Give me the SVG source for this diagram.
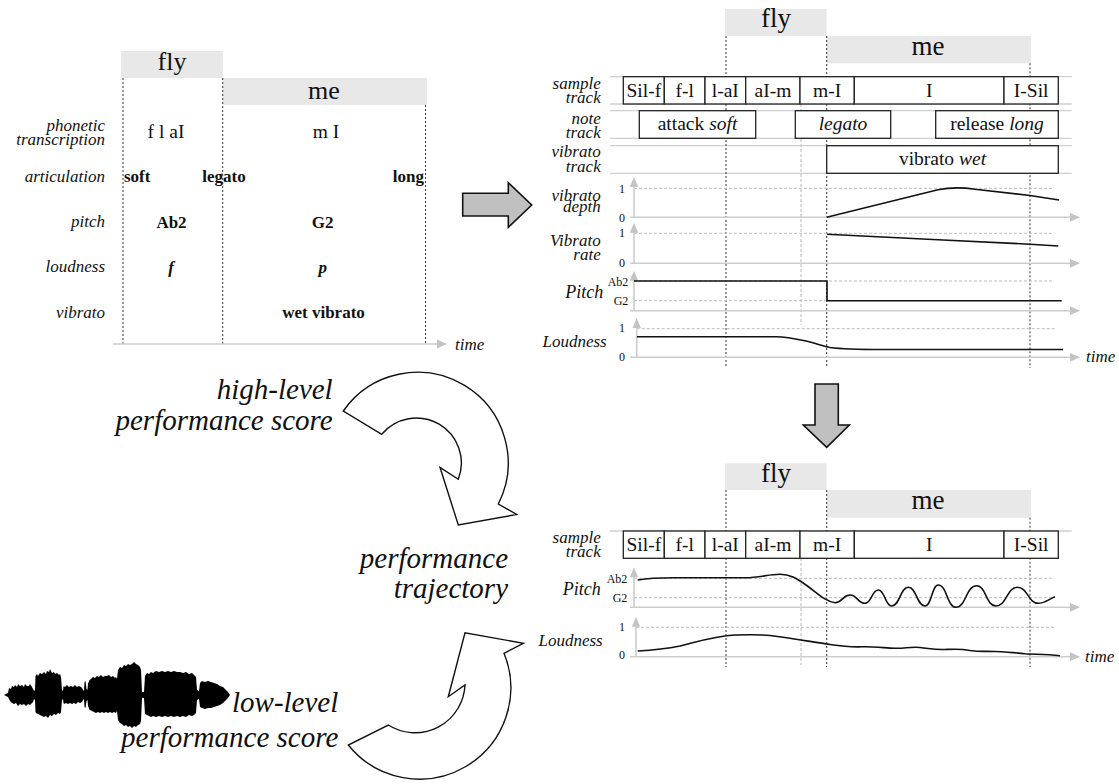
<svg xmlns="http://www.w3.org/2000/svg" width="1119" height="784" viewBox="0 0 1119 784">
<defs>
<style>
text { font-family: "Liberation Serif", "Times New Roman", serif; fill: #111; }
.lab { font-style: italic; font-size: 17px; text-anchor: end; }
.val { font-size: 19.5px; text-anchor: middle; }
.bv { font-size: 17px; font-weight: bold; text-anchor: middle; }
.word { font-size: 26px; text-anchor: middle; }
.wbox { fill: #e8e8e8; }
.seg { fill: #fff; stroke: #222; stroke-width: 1.3; }
.segt { font-size: 19.5px; text-anchor: middle; }
.trk { stroke: #cfcfcf; stroke-width: 1.3; }
.axis { stroke: #cdcdcd; stroke-width: 1.6; fill: none; }
.grid { stroke: #bdbdbd; stroke-width: 1; stroke-dasharray: 3 2; fill: none; }
.bound { stroke: #333; stroke-width: 1; stroke-dasharray: 2 2; fill: none; }
.gb { stroke: #b8b8b8; stroke-width: 1; stroke-dasharray: 3 2; fill: none; }
.curve { fill: none; stroke: #111; stroke-width: 1.6; stroke-linejoin: round; }
.tick { font-size: 12px; text-anchor: end; }
.big { font-style: italic; font-size: 29px; text-anchor: end; }
.block { fill: #c0c0c0; stroke: #111; stroke-width: 1.6; }
.bend { fill: #fff; stroke: #111; stroke-width: 1.4; stroke-linejoin: miter; }
.time { font-style: italic; font-size: 17px; }
</style>
<path id="up" d="M0,-5 L4.2,5 L-4.2,5 Z" fill="#c4c4c4"/>
<path id="rt" d="M-5,-4.4 L5,0 L-5,4.4 Z" fill="#c4c4c4"/>
</defs>

<rect width="1119" height="784" fill="#fff"/>

<!-- high-level performance score table -->
<g id="hl-score">
  <rect class="wbox" x="121" y="51" width="102" height="27"/>
  <rect class="wbox" x="222.7" y="78" width="204.3" height="27"/>
  <text class="word" x="172" y="69.5">fly</text>
  <text class="word" x="324" y="99">me</text>
  <path class="bound" d="M123,78 V344 M222.7,78 V344 M425.5,105 V344"/>
  <path class="axis" d="M113,344 H438"/>
  <use href="#rt" x="442" y="344"/>
  <text class="time" x="455" y="350">time</text>

  <text class="lab" x="105" y="130.7">phonetic</text>
  <text class="lab" x="105" y="144.5">transcription</text>
  <text class="lab" x="105" y="181.5">articulation</text>
  <text class="lab" x="105" y="227">pitch</text>
  <text class="lab" x="105" y="272.3">loudness</text>
  <text class="lab" x="105" y="317.7">vibrato</text>

  <text class="val" x="166" y="137.7">f l aI</text>
  <text class="val" x="326" y="137.7">m I</text>
  <text class="bv" x="124" y="181.5" text-anchor="start" style="text-anchor:start">soft</text>
  <text class="bv" x="224" y="181.5">legato</text>
  <text class="bv" x="424" y="181.5" style="text-anchor:end">long</text>
  <text class="bv" x="171.5" y="227.5">Ab2</text>
  <text class="bv" x="322.7" y="227.5">G2</text>
  <text class="bv" x="171" y="273" font-style="italic">f</text>
  <text class="bv" x="322.7" y="273" font-style="italic">p</text>
  <text class="bv" x="323.5" y="318">wet vibrato</text>
</g>

<!-- parameter tracks and control curves -->
<g id="params-panel">
  <rect class="wbox" x="725" y="9" width="101.7" height="27"/>
  <rect class="wbox" x="826.7" y="36" width="204.3" height="27.3"/>
  <text class="word" x="776" y="27.3" style="font-size:27px">fly</text>
  <text class="word" x="928" y="55" style="font-size:27px">me</text>

  <path class="trk" d="M610,76.7 H1071.7 M610,104 H1071.7 M610,110.7 H1071.7 M610,138.3 H1071.7 M610,145.7 H1071.7 M610,173.3 H1071.7"/>
  <path class="gb" d="M801,104 V325"/>
  <path class="bound" d="M726,36 V368 M826.7,36 V368 M1030,63.3 V368"/>

  <text class="lab" x="600.7" y="89">sample</text>
  <text class="lab" x="600.7" y="103">track</text>
  <text class="lab" x="600.7" y="124">note</text>
  <text class="lab" x="600.7" y="137.7">track</text>
  <text class="lab" x="600.7" y="157">vibrato</text>
  <text class="lab" x="600.7" y="171.5">track</text>

  <g id="sample-track">
    <rect class="seg" x="623.3" y="76.7" width="41" height="27.3"/>
    <rect class="seg" x="664.3" y="76.7" width="40.7" height="27.3"/>
    <rect class="seg" x="705" y="76.7" width="40.7" height="27.3"/>
    <rect class="seg" x="745.7" y="76.7" width="54.3" height="27.3"/>
    <rect class="seg" x="800" y="76.7" width="54.3" height="27.3"/>
    <rect class="seg" x="854.3" y="76.7" width="149.7" height="27.3"/>
    <rect class="seg" x="1004" y="76.7" width="54.3" height="27.3"/>
    <text class="segt" x="643.8" y="96.7">Sil-f</text>
    <text class="segt" x="684.7" y="96.7">f-l</text>
    <text class="segt" x="725.3" y="96.7">l-aI</text>
    <text class="segt" x="772.9" y="96.7">aI-m</text>
    <text class="segt" x="827.2" y="96.7">m-I</text>
    <text class="segt" x="929.2" y="96.7">I</text>
    <text class="segt" x="1031.2" y="96.7">I-Sil</text>
  </g>
  <g id="note-track">
    <rect class="seg" x="639.3" y="110.7" width="116.4" height="27.6"/>
    <rect class="seg" x="795.3" y="110.7" width="95.4" height="27.6"/>
    <rect class="seg" x="935.7" y="110.7" width="122.6" height="27.6"/>
    <text class="segt" x="697.5" y="130">attack <tspan font-style="italic">soft</tspan></text>
    <text class="segt" x="843" y="130" font-style="italic">legato</text>
    <text class="segt" x="997" y="130">release <tspan font-style="italic">long</tspan></text>
  </g>
  <g id="vibrato-track">
    <rect class="seg" x="826.7" y="145.7" width="231.6" height="27.6"/>
    <text class="segt" x="942.5" y="165">vibrato <tspan font-style="italic">wet</tspan></text>
  </g>

  <g id="vibrato-depth">
    <text class="lab" x="600.7" y="200.5">vibrato</text>
    <text class="lab" x="600.7" y="212">depth</text>
    <path class="grid" d="M634,188.3 H1053"/>
    <path class="axis" d="M634,186 V217.3 M630,217.3 H1070"/>
    <use href="#up" x="634" y="182"/>
    <use href="#rt" x="1075" y="217.3"/>
    <text class="tick" x="625" y="193">1</text>
    <text class="tick" x="625" y="221.7">0</text>
    <path class="curve" d="M826.7,217.3 L938,189.8 C950,187.3 962,187.3 975,189.2 L1030,195.5 L1059,200"/>
  </g>
  <g id="vibrato-rate">
    <text class="lab" x="600.7" y="246">Vibrato</text>
    <text class="lab" x="600.7" y="259.5">rate</text>
    <path class="grid" d="M634,233.3 H1051.7"/>
    <path class="axis" d="M634,232 V263.3 M630,263.3 H1070"/>
    <use href="#up" x="634" y="227.7"/>
    <use href="#rt" x="1075" y="263.3"/>
    <text class="tick" x="625" y="237">1</text>
    <text class="tick" x="625" y="267.3">0</text>
    <path class="curve" d="M827,234.3 L943,240 L1030,244.2 L1058.3,246"/>
  </g>
  <g id="pitch-curve">
    <text class="lab" x="603.3" y="298.3" style="font-size:18px">Pitch</text>
    <path class="grid" d="M634,281 H1053 M634,300.7 H1053"/>
    <path class="axis" d="M634,280 V310.7 M630,310.7 H1070"/>
    <use href="#up" x="634" y="275.7"/>
    <use href="#rt" x="1075" y="310.7"/>
    <text class="tick" x="628.3" y="286">Ab2</text>
    <text class="tick" x="628.3" y="305">G2</text>
    <path class="curve" d="M634,281 H827 V300.7 H1061.7"/>
  </g>
  <g id="loudness-curve">
    <text class="lab" x="606.7" y="346.7">Loudness</text>
    <path class="grid" d="M636.7,328.7 H1056.7"/>
    <path class="axis" d="M636.7,327.7 V357.3 M630,357.3 H1070"/>
    <use href="#up" x="636.7" y="323"/>
    <use href="#rt" x="1075" y="357.3"/>
    <text class="tick" x="625" y="332">1</text>
    <text class="tick" x="625" y="361">0</text>
    <path class="curve" d="M637,336.7 H776 C790,337 800,340 810,342 C818,344 822,346 830,347.5 C845,349.4 860,349.5 880,349.5 H1063"/>
    <text class="time" x="1086" y="361.7">time</text>
  </g>
</g>

<!-- performance trajectory -->
<g id="trajectory-panel">
  <rect class="wbox" x="725" y="463.3" width="101.7" height="26.7"/>
  <rect class="wbox" x="826.7" y="490" width="204.3" height="27.7"/>
  <text class="word" x="776" y="481.5" style="font-size:27px">fly</text>
  <text class="word" x="928" y="509.3" style="font-size:27px">me</text>

  <path class="trk" d="M610,531 H1071.7"/>
  <path class="gb" d="M801,558 V665"/>
  <path class="bound" d="M726,490 V667 M826.7,490 V667 M1030,517.7 V667"/>

  <text class="lab" x="600.7" y="543.3">sample</text>
  <text class="lab" x="600.7" y="557.3">track</text>
  <g id="sample-track-2">
    <rect class="seg" x="623.3" y="531" width="41" height="27.3"/>
    <rect class="seg" x="664.3" y="531" width="40.7" height="27.3"/>
    <rect class="seg" x="705" y="531" width="40.7" height="27.3"/>
    <rect class="seg" x="745.7" y="531" width="54.3" height="27.3"/>
    <rect class="seg" x="800" y="531" width="54.3" height="27.3"/>
    <rect class="seg" x="854.3" y="531" width="149.7" height="27.3"/>
    <rect class="seg" x="1004" y="531" width="54.3" height="27.3"/>
    <text class="segt" x="643.8" y="551">Sil-f</text>
    <text class="segt" x="684.7" y="551">f-l</text>
    <text class="segt" x="725.3" y="551">l-aI</text>
    <text class="segt" x="772.9" y="551">aI-m</text>
    <text class="segt" x="827.2" y="551">m-I</text>
    <text class="segt" x="929.2" y="551">I</text>
    <text class="segt" x="1031.2" y="551">I-Sil</text>
  </g>
  <g id="pitch-trajectory">
    <text class="lab" x="600.7" y="595" style="font-size:18px">Pitch</text>
    <path class="grid" d="M634,578.3 H1051.7 M634,597.7 H1051.7"/>
    <path class="axis" d="M634,572 V607.3 M630,607.3 H1070"/>
    <use href="#up" x="634" y="572.3"/>
    <use href="#rt" x="1075" y="607.3"/>
    <text class="tick" x="627.3" y="583.3">Ab2</text>
    <text class="tick" x="627.3" y="601.7">G2</text>
    <path class="curve" d="M637.7,580 C648,578.2 658,577.7 675,577.7 L745,577.7 C760,577.7 768,574.3 780,574.3 C790,574.3 796,578 806,585 C816,592 824,601 835,602.7 C842.5,602.7 842.5,595 850,595 C857.5,595 857.5,603.3 865,603.3 C871.7,603.3 871.7,590 878.3,590 C885,590 885,606 891.7,606 C900,606 900,587.3 908.3,587.3 C916.7,587.3 916.7,606 925,606 C931.7,606 931.7,585 938.3,585 C947,585 947,607.3 956,607.3 C966,607.3 966,585.7 976.7,585.7 C986,585.7 986,606 996,606 C1006.7,606 1006.7,587.3 1017.3,587.3 C1028,587.3 1028,603.3 1038.3,603.3 C1045,603.3 1049,599 1055,596.7"/>
  </g>
  <g id="loudness-trajectory">
    <text class="lab" x="602.7" y="646">Loudness</text>
    <path class="grid" d="M636,627.3 H1055"/>
    <path class="axis" d="M636,621.7 V656.7 M630,656.7 H1070"/>
    <use href="#up" x="636" y="621.7"/>
    <use href="#rt" x="1075" y="656.7"/>
    <text class="tick" x="625" y="630.7">1</text>
    <text class="tick" x="625" y="659.3">0</text>
    <path class="curve" d="M637.7,651 C655,650 665,649 680,646 C700,641 715,636 735,635 C750,634.5 760,634.5 770,635.5 C790,638 810,641.5 830,644.5 C842,646.3 850,647.2 862,646.8 C875,646.5 885,648 895,648.3 C905,648.6 910,646.6 920,647.5 C930,648.5 935,650 945,649.5 C955,649 960,648.5 970,650.5 C980,652 985,651 995,651.5 C1005,652 1015,652.5 1025,653.8 C1035,654.6 1045,653.6 1060,655.7"/>
    <text class="time" x="1085" y="661.7">time</text>
  </g>
</g>

<!-- recorded voice waveform -->
<g id="waveform">
  <path fill="#000" d="M4,695 L8,693 9,688 11,689 12,686 14,687 15,685 17,687 18,684 20,686 22,685 24,687 25,684 27,686 29,686 30,684 32,687 33,689 34,691 35,690 35.5,676 37,674 38,676 40,673 42,674 44,672 46,674 47,671 49,672 50,669 52,673 54,672 55,674 57,673 59,675 60,674 61,677 62,690 63,691 63.5,686 65,687 67,685 69,687 71,686 73,687 75,685 77,687 79,686 81,687 82,688 83,690 84,691 84.5,682 85.5,681 86.5,689 87.5,690 88,683 88.8,682 89.5,680 91,679 93,677 95,678 97,676 99,677 101,675 103,677 105,676 107,676 109,675 111,677 113,676 115,678 116,677 117,679 118,670 120,667 122,668 124,665 126,666 128,664 130,665 132,664 134,662 136,664 138,665 140,667 141,670 142,692 144,692 145,676 147,673 149,674 151,672 153,673 156,671 159,672 162,671 165,672 168,671 171,672 174,671 177,672 180,672 183,673 186,672 189,674 192,673 194,675 196,677 197,690 199,691 200,683 202,681 205,682 208,681 211,682 214,683 217,684 220,686 223,687 226,690 228,692 230,695 L228,698 226,700 223,703 220,705 217,706 214,707 211,708 208,708 205,709 202,708 200,707 199,699 197,700 196,713 194,715 192,716 189,715 186,717 183,716 180,717 177,716 174,717 171,716 168,717 165,716 162,717 159,716 156,717 153,716 151,717 149,716 147,715 145,714 144,698 142,698 141,721 140,724 138,725 136,727 134,726 132,728 130,726 128,727 126,725 124,726 122,724 120,723 118,720 117,711 116,713 114,712 112,713 110,712 108,713 106,712 104,713 102,712 100,713 98,712 96,713 94,712 92,711 90,710 89,709 88.5,707 88,706 87.5,700 86.5,701 85.5,708 84.5,707 84,699 83,700 82,702 80,703 78,702 76,704 74,703 72,704 70,703 68,704 66,703 64,704 63.5,703 63,699 62,700 61,712 60,714 58,713 56,715 54,714 52,716 50,715 48,718 46,716 44,717 42,716 40,715 38,714 36,713 35.5,712 35,700 34,699 33,702 32,703 30,705 28,704 26,706 24,704 22,705 20,704 18,706 16,703 14,704 12,703 10,701 8,697 Z"/>
</g>

<!-- stage labels -->
<g id="stage-labels">
  <text class="big" x="332.7" y="399">high-level</text>
  <text class="big" x="332.7" y="430">performance score</text>
  <text class="big" x="508" y="568.3">performance</text>
  <text class="big" x="508" y="598.3">trajectory</text>
  <text class="big" x="338.3" y="711.7">low-level</text>
  <text class="big" x="338.3" y="746.7">performance score</text>
</g>

<!-- connectors -->
<g id="connectors">
  <path class="block" d="M462.7,193.3 H508.3 V182.7 L531.7,205 L508.3,227.3 V216 H462.7 Z"/>
  <path class="block" d="M815,384 H838.3 V425 H849.3 L826.7,447.3 L803.3,425 H815 Z"/>
  <path class="bend" d="M343.3,411 A90.6,90.6 0 0 1 498.3,504 L516.7,514.5 L458.3,525 L440,467.3 L458.3,479.3 A45,45 0 0 0 381.7,434.3 Z"/>
  <path class="bend" d="M348.3,745 A91.3,91.3 0 0 0 504,653.3 L523.3,643.3 L465,632.7 L448.3,696.7 L465,685 A50,50 0 0 1 388.3,725 Z"/>
</g>
</svg>
